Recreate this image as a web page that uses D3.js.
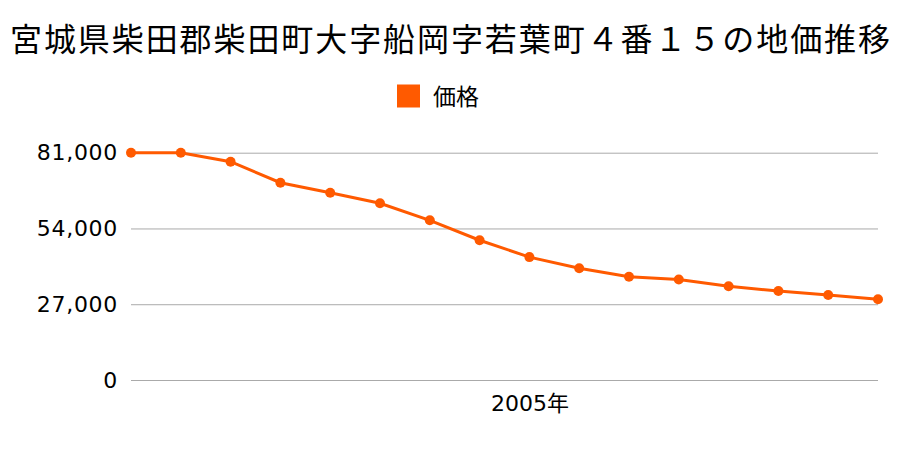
<!DOCTYPE html>
<html><head><meta charset="utf-8">
<script src="https://cdn.jsdelivr.net/npm/d3@7"></script>
<style>body{margin:0;background:#fff}svg{display:block}</style>
</head><body>
<svg id="c" width="900" height="450"></svg>
<script>
const title = "宮城県柴田郡柴田町大字船岡字若葉町４番１５の地価推移";
const seriesName = "価格";
const years = [1997,1998,1999,2000,2001,2002,2003,2004,2005,2006,2007,2008,2009,2010,2011,2012];
const prices = [81000,81000,77800,70300,66700,63000,56900,49800,43800,39800,36800,35800,33400,31700,30300,28800];
const yTicks = [0,27000,54000,81000];
const xTickLabels = [{year:2005,label:"2005年"}];

const svg = d3.select("#c");
const cjk = "'Noto Sans CJK JP','Noto Sans',sans-serif";
const num = "'DejaVu Sans','Noto Sans CJK JP',sans-serif";
const color = "#ff5a00";
const m = {left:131,right:878,top:152.7,bottom:380};

const x = d3.scalePoint().domain(years).range([m.left,m.right]).padding(0);
const y = d3.scaleLinear().domain([0,81000]).range([m.bottom,m.top]);

svg.append("text").attr("x",10).attr("y",51)
  .attr("font-family",cjk).attr("font-size",32).attr("fill","#000")
  .attr("textLength",880).attr("lengthAdjust","spacing").text(title);

svg.append("rect").attr("x",397).attr("y",84.5).attr("width",23).attr("height",23).attr("fill",color);
svg.append("text").attr("x",433).attr("y",104.5).attr("font-family",cjk).attr("font-size",23).attr("fill","#000").text(seriesName);

const yAxis = d3.axisLeft(y).tickValues(yTicks).tickSize(-(m.right-m.left)).tickPadding(13)
  .tickFormat(d3.format(","));
const gy = svg.append("g").attr("transform",`translate(${m.left},0)`).call(yAxis);
gy.select(".domain").remove();
gy.selectAll(".tick line").attr("stroke","#aaa").attr("stroke-width",1);
gy.selectAll(".tick text").attr("font-family",num).attr("font-size",22).attr("letter-spacing","0.7px").attr("fill","#000");

const xAxis = d3.axisBottom(x).tickValues(xTickLabels.map(d=>d.year)).tickSize(0).tickPadding(15)
  .tickFormat(d=>xTickLabels.find(t=>t.year===d).label);
const gx = svg.append("g").attr("transform",`translate(0,${m.bottom})`).call(xAxis);
gx.select(".domain").remove();
gx.selectAll(".tick text").attr("font-family",num).attr("font-size",22).attr("fill","#000");

const line = d3.line().x((d,i)=>x(years[i])).y(d=>y(d));
svg.append("path").datum(prices).attr("d",line).attr("fill","none").attr("stroke",color).attr("stroke-width",3);
svg.selectAll("circle.p").data(prices).join("circle").attr("class","p")
  .attr("cx",(d,i)=>x(years[i])).attr("cy",d=>y(d)).attr("r",5).attr("fill",color);
</script>
</body></html>
